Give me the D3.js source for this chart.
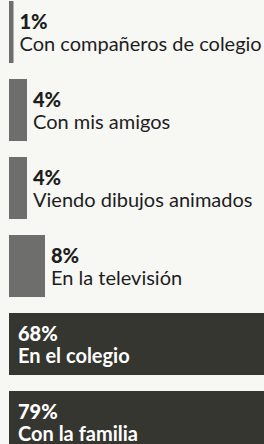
<!DOCTYPE html>
<html lang="es">
<head>
<meta charset="UTF-8">
<title>Dónde aprenden</title>
<script src="https://cdn.jsdelivr.net/npm/d3@7/dist/d3.min.js"></script>
<style>
  html, body { margin: 0; padding: 0; background: #f7f7f4; }
  svg { display: block; }
</style>
</head>
<body>
<svg width="264" height="444"></svg>
<script>
// datos
var labels = ['Con compañeros de colegio', 'Con mis amigos', 'Viendo dibujos animados',
              'En la televisión', 'En el colegio', 'Con la familia'];
var values = [1, 4, 4, 8, 68, 79];
var pctLabels = ['1%', '4%', '4%', '8%', '68%', '79%'];

var svg = d3.select('svg');
var W = +svg.attr('width'), H = +svg.attr('height');

var x0 = 9;
// 4.5 px por punto porcentual; las barras grandes se salen del recuadro
var x = d3.scaleLinear().domain([0, 100]).range([x0, x0 + 450]);
var y = d3.scaleBand()
    .domain(labels)
    .range([1, 1 + 6 * 78])
    .paddingInner(0.205)
    .paddingOuter(0.1025)
    .align(0);

var rows = svg.selectAll('g.row')
    .data(labels)
    .enter().append('g')
    .attr('class', 'row')
    .attr('transform', function(d) { return 'translate(0,' + y(d) + ')'; });

rows.append('rect')
    .attr('x', x(0))
    .attr('y', 0)
    .attr('width', function(d, i) { return x(values[i]) - x(0); })
    .attr('height', y.bandwidth())
    .attr('fill', function(d, i) { return values[i] > 50 ? '#35362f' : '#6e6e6c'; });

// texto dentro de la barra si es ancha, si no a su derecha
function tx(i) { return values[i] > 50 ? x0 + 9 : x(values[i]) + 6; }
function tc(i) { return values[i] > 50 ? '#ffffff' : '#1e1e1e'; }

rows.append('text')
    .attr('x', function(d, i) { return tx(i); })
    .attr('y', 28)
    .attr('fill', function(d, i) { return tc(i); })
    .style('font-family', 'Lato, sans-serif')
    .style('font-weight', 900)
    .style('font-size', '20px')
    .text(function(d, i) { return pctLabels[i]; });

rows.append('text')
    .attr('x', function(d, i) { return tx(i); })
    .attr('y', 50)
    .attr('fill', function(d, i) { return tc(i); })
    .style('font-family', 'Lato, sans-serif')
    .style('font-weight', function(d, i) { return values[i] > 50 ? 700 : 400; })
    .style('font-size', '20px')
    .text(function(d) { return d; });
</script>
</body>
</html>
